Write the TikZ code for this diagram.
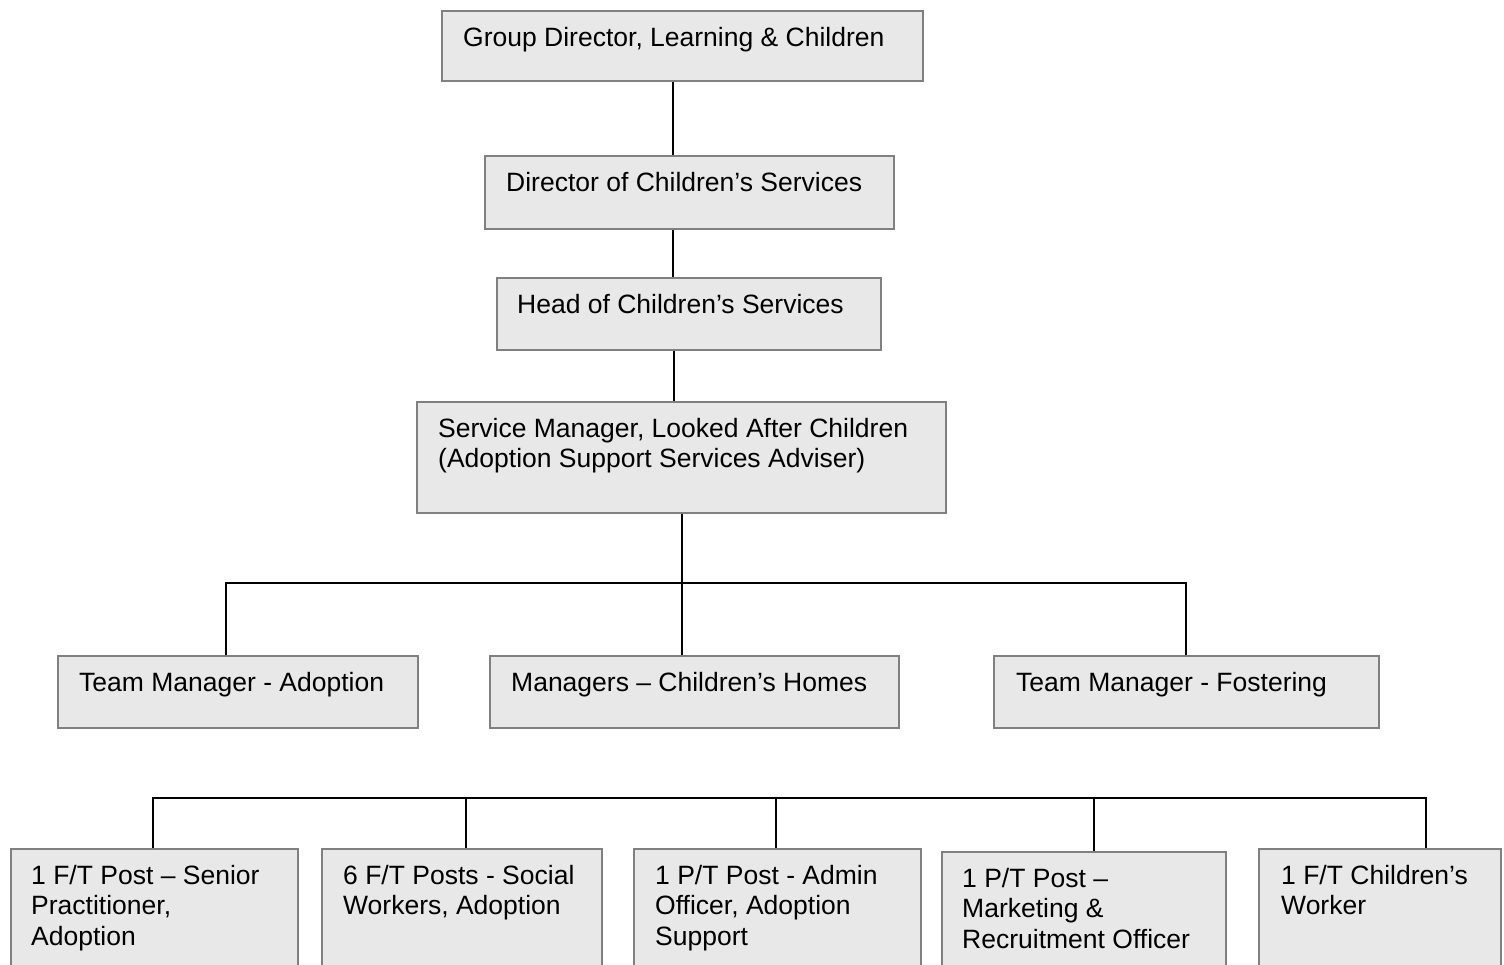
\documentclass[tikz,border=0pt]{standalone}
\usepackage{fontspec}
\setmainfont{Liberation Sans}
\definecolor{boxfill}{HTML}{E8E8E8}
\definecolor{boxline}{HTML}{808080}
\tikzset{
  orgbox/.style={draw=boxline, line width=2.4pt, fill=boxfill, rectangle, anchor=north west, inner sep=0pt},
  lbl/.style={anchor=north west, inner sep=0pt, align=left, font=\fontsize{26.5}{30.5}\selectfont},
  link/.style={draw=black, line width=1.6pt}
}
\newcommand{\fl}{\rule{0pt}{21pt}}
\begin{document}
\begin{tikzpicture}[x=1pt,y=-1pt]
\useasboundingbox (0,0) rectangle (1504,964);
% boxes
\node[orgbox, minimum width=481, minimum height=70] (g) at (441,10) {};
\node[orgbox, minimum width=409, minimum height=73] (d) at (484,155) {};
\node[orgbox, minimum width=384, minimum height=72] (h) at (496,277) {};
\node[orgbox, minimum width=529, minimum height=111] (s) at (416,401) {};
\node[orgbox, minimum width=360, minimum height=72] (ta) at (57,655) {};
\node[orgbox, minimum width=409, minimum height=72] (mh) at (489,655) {};
\node[orgbox, minimum width=385, minimum height=72] (tf) at (993,655) {};
\node[orgbox, minimum width=287, minimum height=140] (b1) at (10,848) {};
\node[orgbox, minimum width=280, minimum height=140] (b2) at (321,848) {};
\node[orgbox, minimum width=287, minimum height=140] (b3) at (633,848) {};
\node[orgbox, minimum width=284, minimum height=137] (b4) at (941,851) {};
\node[orgbox, minimum width=242, minimum height=140] (b5) at (1258,848) {};
% labels
\node[lbl] (tg) at ([shift={(22,15)}]g.north west) {\fl Group Director, Learning \& Children};
\node[lbl] (td) at ([shift={(22,15)}]d.north west) {\fl Director of Children’s Services};
\node[lbl] (th) at ([shift={(21,15)}]h.north west) {\fl Head of Children’s Services};
\node[lbl] (ts) at ([shift={(22,15)}]s.north west) {\fl Service Manager, Looked After Children\\(Adoption Support Services Adviser)};
\node[lbl] (tta) at ([shift={(22,15)}]ta.north west) {\fl Team Manager - Adoption};
\node[lbl] (tmh) at ([shift={(22,15)}]mh.north west) {\fl Managers – Children’s Homes};
\node[lbl] (ttf) at ([shift={(23,15)}]tf.north west) {\fl Team Manager - Fostering};
\node[lbl] (tb1) at ([shift={(21,15)}]b1.north west) {\fl 1 F/T Post – Senior\\Practitioner,\\Adoption};
\node[lbl] (tb2) at ([shift={(22,15)}]b2.north west) {\fl 6 F/T Posts - Social\\Workers, Adoption};
\node[lbl] (tb3) at ([shift={(22,15)}]b3.north west) {\fl 1 P/T Post - Admin\\Officer, Adoption\\Support};
\node[lbl] (tb4) at ([shift={(21,15)}]b4.north west) {\fl 1 P/T Post –\\Marketing \&\\Recruitment Officer};
\node[lbl] (tb5) at ([shift={(23,15)}]b5.north west) {\fl 1 F/T Children’s\\Worker};
% connectors
\coordinate (c1) at (673,0);
\coordinate (c2) at (674,0);
\draw[link] (g.south -| c1) -- (d.north -| c1);
\draw[link] (d.south -| c1) -- (h.north -| c1);
\draw[link] (h.south -| c2) -- (s.north -| c2);
\coordinate (j1) at (682,583);
\coordinate (jl) at (226,583);
\coordinate (jr) at (1186,583);
\draw[link] (s.south -| j1) -- (mh.north -| j1);
\draw[link] (ta.north -| jl) -- (jl) -- (jr) -- (tf.north -| jr);
\coordinate (k1) at (153,798);
\coordinate (k2) at (466,798);
\coordinate (k3) at (776,798);
\coordinate (k4) at (1094,798);
\coordinate (k5) at (1426,798);
\draw[link] (b1.north -| k1) -- (k1) -- (k5) -- (b5.north -| k5);
\draw[link] (k2) -- (b2.north -| k2);
\draw[link] (k3) -- (b3.north -| k3);
\draw[link] (k4) -- (b4.north -| k4);
\end{tikzpicture}
\end{document}
